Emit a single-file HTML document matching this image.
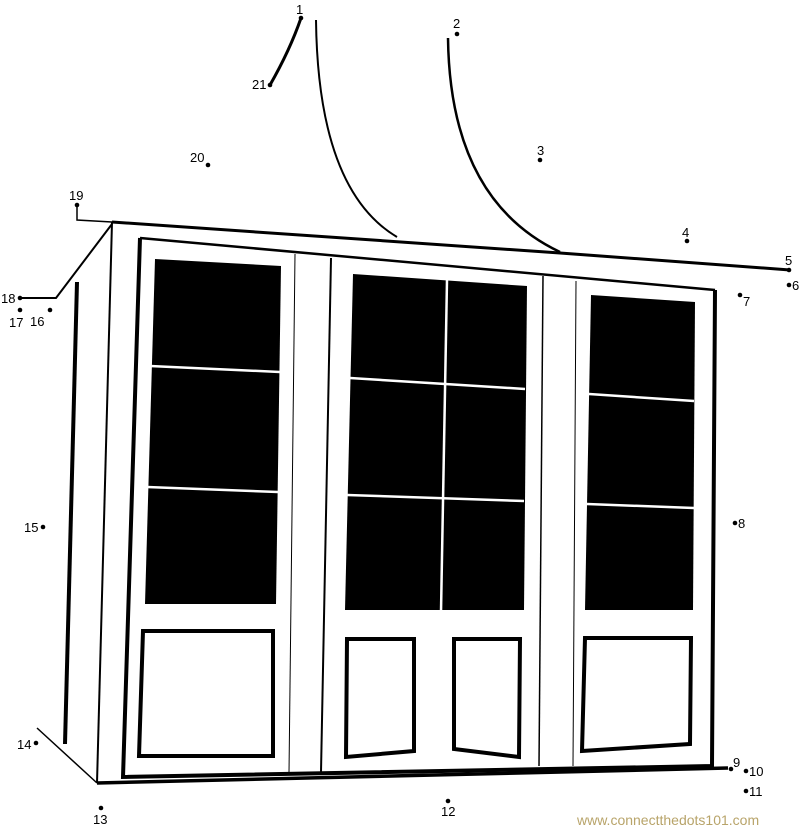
<!DOCTYPE html>
<html><head><meta charset="utf-8"><style>
html,body{margin:0;padding:0;background:#fff;}
svg{display:block;}
text{font-family:"Liberation Sans",sans-serif;font-size:13px;fill:#000;}
</style></head><body>
<svg width="800" height="829" viewBox="0 0 800 829" xmlns="http://www.w3.org/2000/svg">
<g fill="none" stroke="#000" stroke-linejoin="miter">
<path d="M77 206 L77 220 L112 222" stroke-width="1.5"/>
<path d="M112 222 L560 253 L790 270" stroke-width="3"/>
<path d="M301 18 Q290 50 270 85" stroke-width="3"/>
<path d="M316 20 Q318 190 397 237" stroke-width="2"/>
<path d="M448 38 Q450 200 560 252" stroke-width="2.5"/>
<path d="M20 298 L56 298 L112 224" stroke-width="2"/>
<path d="M112 222 L97 783" stroke-width="2"/>
<path d="M77 282 L65 744" stroke-width="4"/>
<path d="M37 728 L97 783" stroke-width="1.5"/>
<path d="M97 783 L728 768" stroke-width="3.5"/>
<path d="M140 238 L715 290" stroke-width="2.5"/>
<path d="M715 290 L712 766 L123 777 L140 238" stroke-width="4"/>
<path d="M295 254 L289 773" stroke-width="1"/>
<path d="M331 258 L321 772" stroke-width="2"/>
<path d="M543 276 L539 766" stroke-width="1.5"/>
<path d="M576 281 L573 766" stroke-width="1"/>
<path d="M143 631 L273 631 L273 756 L139 756 Z" stroke-width="4"/>
<path d="M347 639 L414 639 L414 751 L346 757 Z" stroke-width="4"/>
<path d="M454 639 L520 639 L519 757 L454 749 Z" stroke-width="4"/>
<path d="M585 638 L691 638 L690 744 L582 751 Z" stroke-width="4"/>
</g>
<g fill="#000">
<path d="M155 259 L281 266 L276 604 L145 604 Z"/>
<path d="M353 274 L527 286 L524 610 L345 610 Z"/>
<path d="M591 295 L695 302 L693 610 L585 610 Z"/>
</g>
<g stroke="#fff" stroke-width="2.5" fill="none">
<path d="M150 366 L280 372"/>
<path d="M147 487 L278 492"/>
<path d="M350 378 L525 389"/>
<path d="M347 495 L524 501"/>
<path d="M447 280 L441 612"/>
<path d="M589 394 L694 401"/>
<path d="M587 504 L694 508"/>
</g>
<g fill="#000">
<circle cx="301" cy="18" r="2.3"/><circle cx="457" cy="34" r="2.3"/>
<circle cx="540" cy="160" r="2.3"/><circle cx="687" cy="241" r="2.3"/>
<circle cx="789" cy="270" r="2.3"/><circle cx="789" cy="285" r="2.3"/>
<circle cx="740" cy="295" r="2.3"/><circle cx="735" cy="523" r="2.3"/>
<circle cx="731" cy="769" r="2.3"/><circle cx="746" cy="771" r="2.3"/>
<circle cx="746" cy="791" r="2.3"/><circle cx="448" cy="801" r="2.3"/>
<circle cx="101" cy="808" r="2.3"/><circle cx="36" cy="743" r="2.3"/>
<circle cx="43" cy="527" r="2.3"/><circle cx="50" cy="310" r="2.3"/>
<circle cx="20" cy="310" r="2.3"/><circle cx="20" cy="298" r="2.3"/>
<circle cx="77" cy="205" r="2.3"/><circle cx="208" cy="165" r="2.3"/>
<circle cx="270" cy="85" r="2.3"/>
</g>
<text x="296" y="14">1</text>
<text x="453" y="28">2</text>
<text x="537" y="155">3</text>
<text x="682" y="237">4</text>
<text x="785" y="265">5</text>
<text x="792" y="290">6</text>
<text x="743" y="306">7</text>
<text x="738" y="528">8</text>
<text x="733" y="767">9</text>
<text x="749" y="776">10</text>
<text x="749" y="796">11</text>
<text x="441" y="816">12</text>
<text x="93" y="824">13</text>
<text x="17" y="749">14</text>
<text x="24" y="532">15</text>
<text x="30" y="326">16</text>
<text x="9" y="327">17</text>
<text x="1" y="303">18</text>
<text x="69" y="200">19</text>
<text x="190" y="162">20</text>
<text x="252" y="89">21</text>
<text x="577" y="825" style="font-size:14px;fill:#b8a46a;">www.connectthedots101.com</text>
</svg>
</body></html>
